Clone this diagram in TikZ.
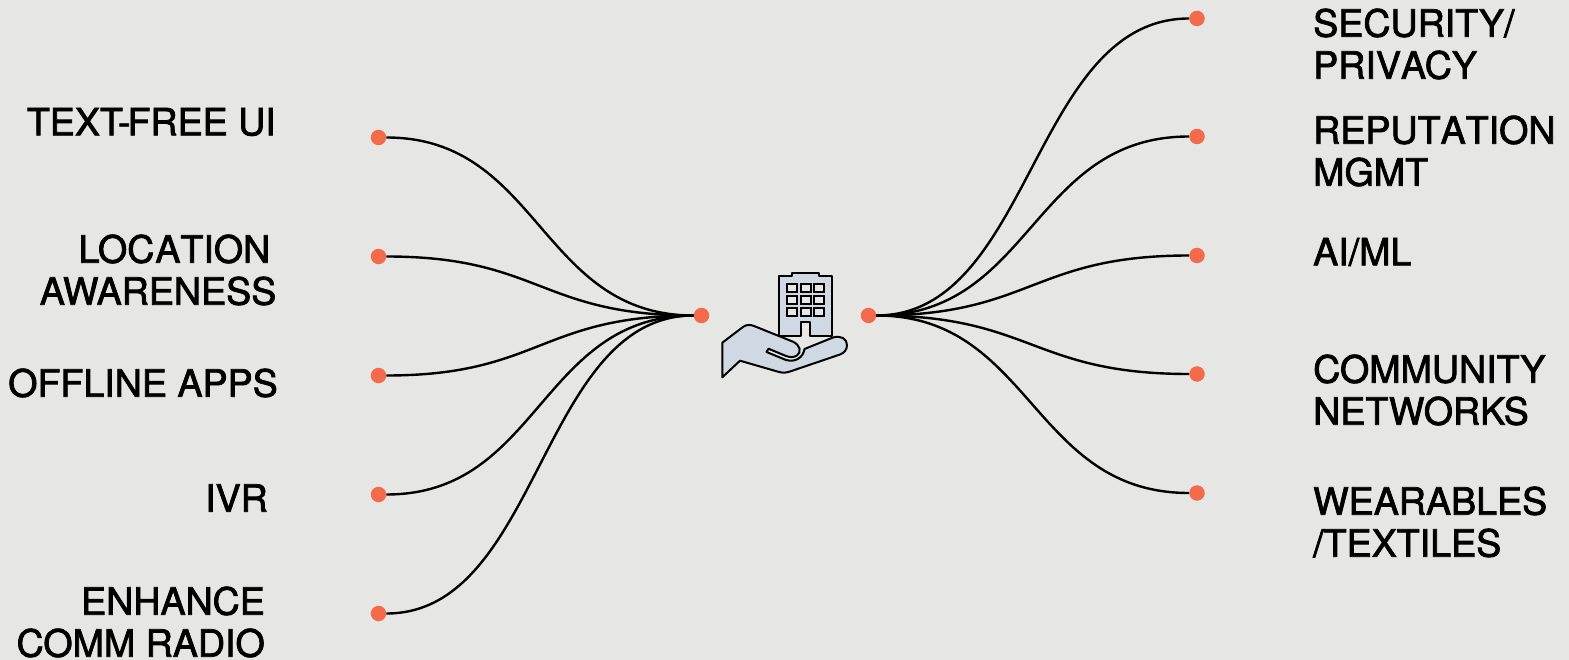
\documentclass[tikz,border=0pt]{standalone}
\usepackage{fontspec}
\newfontfamily\labfont{TeX Gyre Heros}[FakeBold=2]
\definecolor{paper}{HTML}{E6E6E4}
\definecolor{dotred}{HTML}{F46B4C}
\definecolor{iconblue}{HTML}{D0D8E4}
\tikzset{
  pin/.style={circle,fill=dotred,inner sep=0pt,minimum size=15.5pt},
  lab/.style={inner sep=0pt,font=\labfont\fontsize{37.6}{42}\selectfont},
  lableft/.style={lab,anchor=east,align=right},
  labright/.style={lab,anchor=west,align=left},
  wire/.style={line width=2.4pt,black},
  iconline/.style={draw=black,line width=2pt,line join=round,fill=iconblue},
}
\begin{document}
\begin{tikzpicture}[x=1pt,y=-1pt]
\useasboundingbox[fill=paper] (0,0) rectangle (1569,660);
\node[pin] (hubl) at (701.5,315.5){};
\node[pin] (hubr) at (868.5,315.5){};
\foreach \n/\y in {1/137.5,2/256.5,3/375.5,4/494.5,5/613.5}{
\node[pin] (l\n) at (378.5,\y){};
\draw[wire] (l\n) .. controls (540,\y) and (540,315.5) .. (hubl);
}
\foreach \n/\y in {1/18.5,2/136.5,3/255.5,4/374,5/493}{
\node[pin] (r\n) at (1197,\y){};
\draw[wire] (hubr) .. controls (1032,315.5) and (1032,\y) .. (r\n);
}
% left labels
\node[lableft] (textfree) at (276,122){TEXT\kern-5pt-\kern-3pt FREE UI};
\node[lableft] (location) at (276.5,270){LOC\kern1pt A\kern0pt TION\hspace*{6pt}\\AWARENESS};
\node[lableft] (offline) at (278,383){OFFLINE APPS};
\node[lableft] (ivr) at (268,498){IVR};
\node[lableft] (enhance) at (265,622){ENHANCE\\COMM RADIO};
% right labels
\node[labright] (security) at (1313,44){SECURITY/\\PRIV\kern0pt ACY};
\node[labright] (reputation) at (1313,151){REPUT\kern0pt A\kern0pt TION\\MGMT};
\node[labright] (aiml) at (1313,252){AI/ML};
\node[labright] (community) at (1313,390){COMMUNITY\\NETWORKS};
\node[labright] (wearables) at (1313,522){WEARABLES\\/TEXTILES};
% building
\draw[iconline] (779.3,336)--(779.3,275.7)--(792.3,275.7)--(792.3,272.7)--(819,272.7)--(819,275.7)--(832,275.7)--(832,336)--(810,336)--(810,322.3)--(801,322.3)--(801,336)--cycle;
\foreach \x in {787.3,801,814.3}{\foreach \y in {284,296,308}{
\draw[black,line width=2pt,fill=paper] (\x,\y) rectangle ++(9.5,8);
}}
% hand
\draw[iconline] (722.3,342.7)--(743.3,326.7) .. controls (747,324.5) and (750,324.5) .. (754,326)--(793,341.7) .. controls (800,345) and (802,352) .. (797,355.5) .. controls (794,357.5) and (790,357.5) .. (786,356)--(768.5,348.7)--(766.5,352)--(786,360) .. controls (795,362.5) and (803,358) .. (804.5,349)--(833,337.5) .. controls (841,335) and (847,339) .. (847,345) .. controls (847,350) and (844,353) .. (840,354.5)--(790,371.5) .. controls (786,373) and (782,373) .. (778,371.7)--(740,360.7)--(722.3,377.3)--cycle;
\end{tikzpicture}
\end{document}
